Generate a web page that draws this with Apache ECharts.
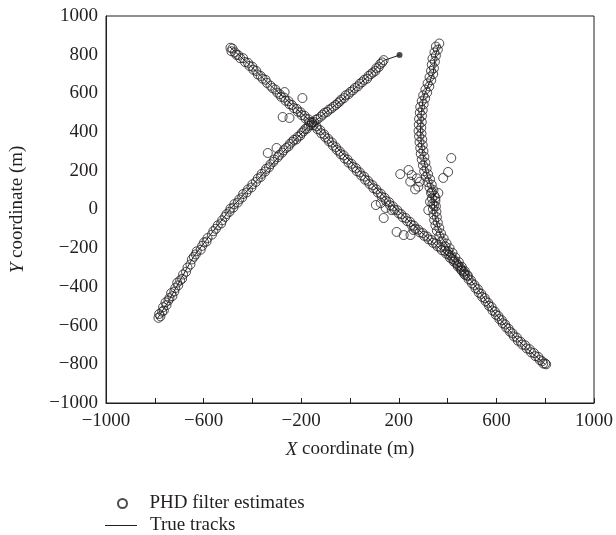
<!DOCTYPE html>
<html>
<head>
<meta charset="utf-8">
<script src="https://cdn.jsdelivr.net/npm/echarts@6/dist/echarts.min.js"></script>
<style>html,body{margin:0;padding:0;background:#fff}#c{width:616px;height:535px}</style>
</head>
<body>
<div id="c"></div>
<script>
// ---- data ----
const xTickLabels = [-1000, -600, -200, 200, 600, 1000];
const yTickLabels = [-1000, -800, -600, -400, -200, 0, 200, 400, 600, 800, 1000];

// true tracks
const trueTrack1 = [[-790,-565],[-748,-483],[-700,-375],[-642,-245],[-570,-127],[-492,0],[-420,98],[-341,205],[-248,333],[-154,447],[-90,510],[-33,566],[30,638],[89,705],[138,770],[203,798]];
const trueTrack2 = [[-492,840],[-420,757],[-341,659],[-250,555],[-154,447],[-70,340],[9,239],[100,120],[187,5],[267,-89],[330,-160],[390,-226],[440,-287],[484,-347],[540,-440],[593,-535],[640,-605],[687,-674],[740,-735],[800,-800]];
const trueTrack3 = [[365,855],[350,795],[341,705],[320,640],[301,581],[292,500],[289,411],[292,340],[301,271],[313,189],[330,130],[341,85],[347,10],[349,-39],[362,-100],[374,-142],[400,-190],[431,-245],[460,-300],[484,-347]];

// PHD filter estimates
const est1 = [[-785,-560],[-777,-552],[-782,-540],[-770,-528],[-763,-522],[-766,-505],[-752,-494],[-756,-480],[-744,-470],[-740,-458],[-728,-448],[-733,-432],[-720,-424],[-716,-406],[-704,-392],[-708,-378],[-696,-366],[-688,-358],[-684,-336],[-672,-322],[-666,-300],[-654,-284],[-648,-258],[-640,-244],[-632,-232],[-628,-216],[-612,-208],[-606,-188],[-598,-170],[-588,-166],[-584,-148],[-566,-130],[-560,-112],[-550,-100],[-542,-82],[-528,-72],[-524,-56],[-512,-38],[-506,-24],[-494,-12],[-490,4],[-478,10],[-474,28],[-460,36],[-454,52],[-442,62],[-438,80],[-424,88],[-418,104],[-404,114],[-400,130],[-386,142],[-378,160],[-366,168],[-362,184],[-348,196],[-344,210],[-332,218],[-326,234],[-314,246],[-310,258],[-296,270],[-290,282],[-278,294],[-272,306],[-262,318],[-252,326],[-246,340],[-236,350],[-230,360],[-220,362],[-214,376],[-204,382],[-198,396],[-190,404],[-184,416],[-176,418],[-170,432],[-160,436],[-156,448],[-148,452],[-140,464],[-132,468],[-120,480],[-112,490],[-104,500],[-94,504],[-86,516],[-76,522],[-68,532],[-58,540],[-50,550],[-42,558],[-36,568],[-24,576],[-18,590],[-6,596],[2,608],[12,616],[20,628],[32,636],[40,650],[50,658],[58,670],[70,676],[76,690],[86,700],[94,708],[104,716],[108,730],[118,736],[124,752],[132,760],[138,772]];

const est2 = [[-490,836],[-482,832],[-486,818],[-472,812],[-466,800],[-458,798],[-450,782],[-438,782],[-430,762],[-418,758],[-412,742],[-400,738],[-396,722],[-384,716],[-378,698],[-366,690],[-358,676],[-346,670],[-340,654],[-326,640],[-318,628],[-306,620],[-298,604],[-288,596],[-282,582],[-270,578],[-264,562],[-252,560],[-248,544],[-238,540],[-230,524],[-218,520],[-214,506],[-202,502],[-198,488],[-186,484],[-182,470],[-170,466],[-166,452],[-156,450],[-150,436],[-138,430],[-134,416],[-122,410],[-118,394],[-106,388],[-102,374],[-90,366],[-86,352],[-74,346],[-70,330],[-58,322],[-54,308],[-42,300],[-38,286],[-26,280],[-22,264],[-10,258],[-6,242],[6,236],[12,220],[24,214],[28,198],[40,192],[46,176],[58,170],[62,154],[74,148],[80,132],[92,126],[96,110],[108,104],[114,88],[126,82],[130,66],[142,60],[148,44],[160,38],[164,22],[176,16],[182,0],[194,-4],[200,-20],[210,-24],[216,-40],[228,-44],[234,-60],[246,-64],[252,-80],[262,-84],[268,-100],[280,-104],[286,-118],[298,-122],[304,-136],[316,-140],[322,-154],[334,-158],[340,-172],[352,-176],[358,-190],[370,-196],[376,-210],[388,-214],[394,-228],[404,-234],[410,-250],[420,-256],[426,-270],[436,-278],[442,-294],[452,-300],[458,-316],[466,-322],[472,-338],[482,-344],[486,-360],[496,-366],[500,-382],[510,-390],[514,-406],[524,-412],[528,-430],[538,-436],[542,-452],[552,-458],[556,-474],[566,-482],[570,-498],[580,-504],[584,-522],[594,-528],[598,-544],[608,-550],[612,-566],[622,-572],[626,-588],[636,-594],[640,-610],[650,-616],[656,-632],[666,-640],[672,-656],[684,-662],[688,-678],[700,-684],[706,-698],[718,-702],[724,-718],[736,-722],[742,-738],[754,-742],[760,-758],[772,-762],[778,-778],[788,-784],[792,-796],[800,-796],[804,-800]];

const est3 = [[366,858],[352,842],[360,826],[346,812],[352,795],[338,780],[348,764],[335,748],[344,730],[332,716],[341,700],[326,684],[333,668],[318,652],[325,636],[309,620],[316,604],[300,590],[308,574],[294,560],[302,544],[288,530],[298,514],[286,500],[295,484],[283,468],[294,452],[282,438],[292,422],[281,406],[293,392],[283,378],[296,362],[285,348],[298,332],[288,318],[301,302],[290,288],[305,272],[294,258],[309,242],[299,228],[314,212],[304,198],[320,182],[311,170],[328,156],[318,142],[335,128],[326,114],[342,100],[332,86],[346,72],[336,58],[350,44],[338,30],[352,16],[340,2],[354,-12],[342,-26],[356,-40],[345,-54],[360,-68],[350,-82],[366,-96],[356,-110],[373,-124],[366,-138],[384,-150],[376,-164],[396,-176],[390,-190],[408,-200],[402,-214],[420,-224],[414,-238],[432,-248],[428,-262],[446,-272],[442,-286],[458,-296],[455,-310],[470,-318],[468,-332],[482,-340]];

// outlying estimates (clutter near tracks)
const estOut = [[-268,607],[-195,576],[-276,478],[-248,473],[-337,292],[-301,318],[106,23],[126,33],[146,8],[171,-3],[138,-44],[191,-116],[220,-132],[248,-132],[260,-106],[206,183],[240,204],[253,178],[247,144],[274,161],[280,118],[267,104],[287,144],[415,266],[402,194],[382,163],[321,-3],[362,85],[336,92],[350,60],[328,40],[344,20]];

// ---- chart ----
const ink = '#231f20';
const font = 'Liberation Serif';
const fs = 19;
const fmt = v => (v < 0 ? '\u2212' + Math.abs(v) : String(v));
const chart = echarts.init(document.getElementById('c'), null, {renderer: 'canvas'});
const scatterStyle = {color: 'rgba(0,0,0,0)', borderColor: ink, borderWidth: 1};
const scat = (d) => ({type: 'scatter', name: 'PHD filter estimates', data: d, symbol: 'circle', symbolSize: 9, itemStyle: scatterStyle, z: 3, silent: true});
const line = (d) => ({type: 'line', name: 'True tracks', data: d, symbol: 'none', showSymbol: false, lineStyle: {color: ink, width: 1}, itemStyle: {color: ink}, z: 2, silent: true});
const legendText = (pad) => ({fontFamily: font, fontSize: fs, color: ink,
  rich: {t: {fontFamily: font, fontSize: fs, color: ink, padding: [0, 0, 0, pad]}}});
const legendFmt = name => '{t|' + name + '}';

chart.setOption({
  animation: false,
  backgroundColor: '#fff',
  textStyle: {fontFamily: font, color: ink},
  grid: {left: 105, right: 19, top: 16, bottom: 132, show: true, borderColor: ink, borderWidth: 1, backgroundColor: 'transparent'},
  legend: [
    {left: 117, top: 494, padding: 0, itemWidth: 32, itemHeight: 9, textStyle: legendText(6), formatter: legendFmt,
      data: [{name: 'PHD filter estimates', icon: 'circle'}]},
    {left: 105, top: 516, padding: 0, itemWidth: 32, itemHeight: 1, textStyle: legendText(8), formatter: legendFmt,
      data: [{name: 'True tracks', icon: 'rect', itemStyle: {color: ink}}]}
  ],
  xAxis: {
    type: 'value', min: -1000, max: 1000, interval: 200,
    name: '{i|X} coordinate (m)', nameLocation: 'middle', nameGap: 37,
    nameTextStyle: {fontFamily: font, fontSize: fs, color: ink, rich: {i: {fontStyle: 'italic', fontFamily: font, fontSize: fs, color: ink}}},
    axisLine: {onZero: false, lineStyle: {color: ink, width: 1}},
    axisTick: {inside: true, length: 5, lineStyle: {color: ink}},
    splitLine: {show: false},
    axisLabel: {margin: 9, fontFamily: font, fontSize: fs, color: ink,
      formatter: v => (xTickLabels.indexOf(v) >= 0 ? fmt(v) : '')}
  },
  yAxis: {
    type: 'value', min: -1000, max: 1000, interval: 200,
    name: '{i|Y} coordinate (m)', nameLocation: 'middle', nameGap: 79,
    nameTextStyle: {fontFamily: font, fontSize: fs, color: ink, rich: {i: {fontStyle: 'italic', fontFamily: font, fontSize: fs, color: ink}}},
    axisLine: {onZero: false, lineStyle: {color: ink, width: 1}},
    axisTick: {show: false},
    splitLine: {show: false},
    axisLabel: {margin: 8, fontFamily: font, fontSize: fs, color: ink,
      formatter: v => (yTickLabels.indexOf(v) >= 0 ? fmt(v) : '')}
  },
  series: [
    line(trueTrack1), line(trueTrack2), line(trueTrack3),
    scat(est1), scat(est2), scat(est3), scat(estOut),
    {type: 'scatter', name: 'track end', data: [trueTrack1[trueTrack1.length - 1]], symbol: 'circle', symbolSize: 6, itemStyle: {color: ink}, z: 4, silent: true}
  ]
});
</script>
</body>
</html>
